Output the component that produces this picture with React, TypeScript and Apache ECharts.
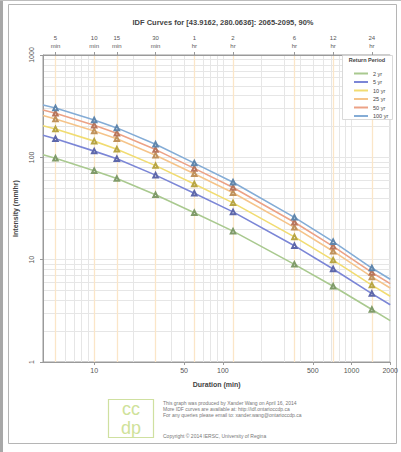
import React, { useEffect, useRef } from "react";
import * as echarts from "echarts";

const TITLE = "IDF Curves for [43.9162, 280.0636]: 2065-2095, 90%";
const durations = [5, 10, 15, 30, 60, 120, 360, 720, 1440];
const durationLabels = ["5\nmin", "10\nmin", "15\nmin", "30\nmin", "1\nhr", "2\nhr", "6\nhr", "12\nhr", "24\nhr"];
const xTickValues = [10, 50, 100, 500, 1000, 2000];
const yTickValues = [1, 10, 100, 1000];
const returnPeriods = ["2 yr", "5 yr", "10 yr", "25 yr", "50 yr", "100 yr"];

const i2 = [98, 74, 62, 43, 28.7, 19.0, 9.0, 5.5, 3.26];
const i5 = [152, 115, 97, 67, 44.5, 29.3, 13.7, 8.1, 4.66];
const i10 = [189, 144, 120, 83, 54.8, 35.9, 16.7, 9.9, 5.64];
const i25 = [237, 181, 152, 105, 69.2, 45.0, 20.7, 12.1, 6.78];
const i50 = [270, 206, 172, 119, 78, 50.7, 23.2, 13.5, 7.5];
const i100 = [304, 232, 194, 134, 87.8, 57.0, 25.9, 15.0, 8.28];
const intensities = [i2, i5, i10, i25, i50, i100];

// fitted curve values read at the plot edges (4 min and 2000 min)
const curveStartDuration = 4;
const curveEndDuration = 2000;
const curveStart = [106, 164, 204, 256, 290, 324];
const curveEnd = [2.54, 3.63, 4.39, 5.28, 5.84, 6.44];

const lineColors = ["#a9c98f", "#7b86d6", "#f1dc72", "#f5c48a", "#eca286", "#84acd6"];
const markerColors = ["#809b6a", "#5e67aa", "#b8a544", "#c0925c", "#b9765c", "#6086ac"];

const footerLines = [
  "This graph was produced by Xander Wang on April 16, 2014",
  "More IDF curves are available at: http://idf.ontarioccdp.ca",
  "For any queries please email to: xander.wang@ontarioccdp.ca",
];
const copyright = "Copyright \u00a9 2014 IERSC, University of Regina";

const lg = (v: number) => Math.log10(v);

function minorValues(lo: number, hi: number) {
  const out: number[] = [];
  for (let p = 0; p <= 3; p++) {
    for (let m = 1; m <= 9; m++) {
      const v = m * Math.pow(10, p);
      if (v >= lo && v <= hi) out.push(lg(v));
    }
  }
  return out;
}

export default function App() {
  const ref = useRef<HTMLDivElement>(null);
  useEffect(() => {
    if (!ref.current) return;
    const chart = echarts.init(ref.current, undefined, { renderer: "svg" });
    const font = "Liberation Sans, Arial, sans-serif";
    const series = returnPeriods.map((name, k) => ({
      type: "line",
      name,
      smooth: false,
      symbol: "emptyTriangle",
      symbolSize: 4.5,
      showSymbol: true,
      color: lineColors[k],
      lineStyle: { color: lineColors[k], width: 1.6, join: "round" },
      itemStyle: { color: markerColors[k], borderWidth: 0.9 },
      xAxisIndex: 0,
      yAxisIndex: 0,
      z: 3 + k,
      data: [
        { value: [lg(curveStartDuration), lg(curveStart[k])], symbol: "none" },
        ...durations.map((d, i) => [lg(d), lg(intensities[k][i])]),
        { value: [lg(curveEndDuration), lg(curveEnd[k])], symbol: "none" },
      ],
    }));

    const xMin = lg(4);
    const xMax = lg(2000);
    const option: any = {
      animation: false,
      backgroundColor: "#ffffff",
      textStyle: { fontFamily: font },
      title: {
        text: TITLE,
        left: 218,
        top: 13,
        textAlign: "center",
        textStyle: { fontSize: 7.5, fontWeight: "bold", color: "#444", fontFamily: font },
      },
      grid: {
        left: 43,
        right: 7,
        top: 55,
        bottom: 90,
        show: true,
        borderColor: "#9a9a9a",
        borderWidth: 1,
        backgroundColor: "transparent",
      },
      legend: {
        orient: "vertical",
        left: 349,
        top: 65,
        z: 30,
        itemWidth: 14,
        itemHeight: 2,
        itemGap: 1.5,
        icon: "rect",
        textStyle: { fontSize: 5.5, color: "#444", lineHeight: 7, fontFamily: font },
        data: returnPeriods.map((n, k) => ({ name: n, itemStyle: { color: lineColors[k] } })),
      },
      xAxis: [
        {
          type: "value",
          position: "bottom",
          min: xMin,
          max: xMax,
          name: "Duration (min)",
          nameLocation: "middle",
          nameGap: 19,
          nameTextStyle: { fontSize: 7, fontWeight: "bold", color: "#444", fontFamily: font },
          axisLine: { show: true, lineStyle: { color: "#9a9a9a", width: 1 } },
          axisTick: { show: true, length: 3, customValues: xTickValues.map(lg), lineStyle: { color: "#9a9a9a" } },
          axisLabel: {
            customValues: xTickValues.map(lg),
            formatter: (v: number) => String(Math.round(Math.pow(10, v))),
            fontSize: 7,
            color: "#555",
            margin: 5,
            fontFamily: font,
          },
          splitLine: { show: false },
        },
        {
          type: "value",
          position: "bottom",
          min: xMin,
          max: xMax,
          axisLine: { show: false },
          axisLabel: { show: false },
          axisTick: { show: false, customValues: minorValues(4, 2000) },
          splitLine: { show: true, lineStyle: { color: "#e6e6e6", width: 1 } },
        },
        {
          type: "value",
          position: "top",
          min: xMin,
          max: xMax,
          axisLine: { show: true, lineStyle: { color: "#9a9a9a", width: 1 } },
          axisTick: { show: true, inside: false, length: 3, customValues: durations.map(lg), lineStyle: { color: "#9a9a9a" } },
          axisLabel: {
            customValues: durations.map(lg),
            formatter: (v: number) => {
              const i = durations.findIndex((d) => Math.abs(lg(d) - v) < 1e-6);
              return i >= 0 ? durationLabels[i] : "";
            },
            fontSize: 6,
            lineHeight: 8,
            color: "#555",
            margin: 5,
            fontFamily: font,
          },
          splitLine: { show: true, lineStyle: { color: "#fbe6c8", width: 1.3 } },
        },
      ],
      yAxis: [
        {
          type: "value",
          position: "left",
          min: 0,
          max: 3,
          name: "Intensity (mm/hr)",
          nameLocation: "middle",
          nameGap: 24,
          nameTextStyle: { fontSize: 7, fontWeight: "bold", color: "#444", fontFamily: font },
          axisLine: { show: true, lineStyle: { color: "#9a9a9a", width: 1 } },
          axisTick: { show: true, length: 3, customValues: yTickValues.map(lg), lineStyle: { color: "#9a9a9a" } },
          axisLabel: {
            customValues: yTickValues.map(lg),
            formatter: (v: number) => String(Math.round(Math.pow(10, v))),
            rotate: 90,
            fontSize: 7,
            color: "#555",
            margin: 8,
            fontFamily: font,
          },
          splitLine: { show: false },
        },
        {
          type: "value",
          position: "left",
          min: 0,
          max: 3,
          axisLine: { show: false },
          axisLabel: { show: false },
          axisTick: { show: false, customValues: minorValues(1, 1000) },
          splitLine: { show: true, lineStyle: { color: "#e6e6e6", width: 1 } },
        },
      ],
      series,
      graphic: [
        { type: "rect", silent: true, z: -1, shape: { x: 0, y: 0, width: 3, height: 452 }, style: { fill: "#a8a8a8" } },
        { type: "line", silent: true, shape: { x1: 0, y1: 0.5, x2: 401, y2: 0.5 }, style: { stroke: "#bdbdbd", lineWidth: 1 } },
        {
          type: "rect",
          silent: true,
          z: -1,
          shape: { x: 8.5, y: 4.5, width: 388, height: 439 },
          style: { fill: "none", stroke: "#b5b5b5", lineWidth: 1 },
        },
        {
          type: "rect",
          silent: true,
          shape: { x: 342.5, y: 55.5, width: 50, height: 64 },
          style: { fill: "#ffffff", stroke: "#d0d0d0", lineWidth: 0.8 },
          z: 2,
        },
        {
          type: "text",
          silent: true,
          z: 31,
          style: { text: "Return Period", x: 367, y: 60, textAlign: "center", textVerticalAlign: "middle", fontSize: 5.5, fontWeight: "bold", fill: "#444", fontFamily: font },
        },
        {
          type: "rect",
          silent: true,
          shape: { x: 108.5, y: 399.5, width: 45, height: 38 },
          style: { fill: "#ffffff", stroke: "#cfe0a0", lineWidth: 1.2 },
        },
        {
          type: "text",
          silent: true,
          style: { text: "cc", x: 131, y: 409, textAlign: "center", textVerticalAlign: "middle", fontSize: 18, fill: "#cfe29a", fontFamily: font },
        },
        {
          type: "text",
          silent: true,
          style: { text: "dp", x: 131, y: 428, textAlign: "center", textVerticalAlign: "middle", fontSize: 18, fill: "#cfe29a", fontFamily: font },
        },
        ...footerLines.map((t, i) => ({
          type: "text",
          silent: true,
          style: { text: t, x: 163, y: 403 + i * 6.2, textVerticalAlign: "middle", fontSize: 5, fill: "#777", fontFamily: font },
        })),
        {
          type: "text",
          silent: true,
          style: { text: copyright, x: 163, y: 436, textVerticalAlign: "middle", fontSize: 5, fill: "#777", fontFamily: font },
        },
      ],
    };
    chart.setOption(option);
    return () => chart.dispose();
  }, []);
  return (
    <div
      ref={ref}
      style={{ position: "fixed", left: 0, top: 0, width: 401, height: 452, background: "#fff" }}
    />
  );
}
